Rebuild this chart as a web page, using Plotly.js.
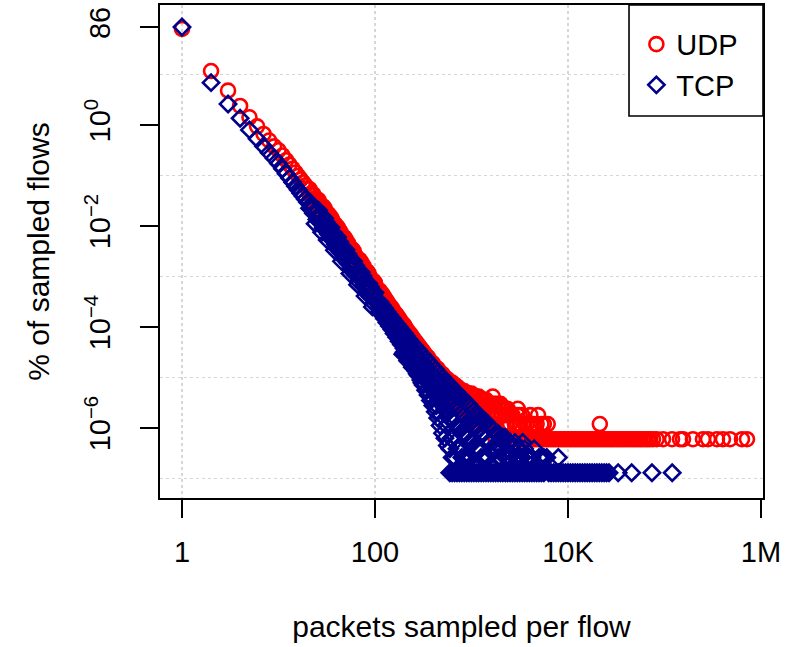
<!DOCTYPE html>
<html><head><meta charset="utf-8">
<script src="https://cdn.plot.ly/plotly-3.0.1.min.js"></script>
<style>html,body{margin:0;padding:0;background:#fff}#chart{width:798px;height:647px}</style>
</head><body><div id="chart"></div>
<script>
// packets sampled per flow (x) and % of sampled flows (y)
const udpPackets = [
  1,2,3,4,5,6,7,8,9,10,
  11,12,13,14,15,16,17,18,19,20,
  22,24,26,28,30,32,35,38,41,45,
  50,55,60,66,72,79,86,94,100,
  25,27,29,31,34,37,40,43,47,
  52,57,63,69,75,82,90,97,
  21,21,23,23,27,29,31,33,33,36,36,
  39,39,42,42,44,44,48,48,53,53,
  58,58,63,69,69,76,76,83,83,90,97,
  24,28,32,38,45,55,66,79,94,
  26,30,35,41,50,60,72,86,100,
  112,112,126,126,141,141,158,158,178,178,
  119,119,133,133,150,150,168,168,168,
  200,200,200,224,224,224,251,251,251,
  188,188,188,211,211,211,237,237,237,
  282,282,282,316,316,316,355,355,355,
  266,266,266,299,299,299,335,335,335,
  398,398,398,447,447,447,501,501,501,
  376,376,376,422,422,422,473,473,473,
  345,345,387,387,434,434,487,487,546,546,
  562,562,562,631,631,631,708,708,708,
  531,531,531,596,596,596,668,668,668,
  613,613,687,687,770,770,866,866,
  794,794,794,891,891,891,1000,1000,1000,
  750,750,750,841,841,841,944,944,944,
  1122,1122,1122,1259,1259,1259,1413,1413,1413,
  1059,1059,1059,1189,1189,1189,1334,1334,1334,
  1585,1585,1585,1660,1778,1778,1778,1995,1995,1995,
  1496,1496,1679,1679,1884,1884,2113,2113,2371,2371,
  2239,2239,2239,2512,2512,2512,2818,2818,3020,
  2661,2661,2985,2985,3350,3350,3758,3758,4217,4217,
  3162,3162,3162,3548,3548,3981,4074,4467,4467,4898,
  4732,4732,5309,5309,5957,
  5012,5623,5623,6166,6310,6680,
  7079,7500,7943,8413,8913,9441,10000,10590,11220,11890,
  12590,13340,14130,14970,15850,16790,17780,18840,19950,21130,
  22390,23710,25120,26610,28180,29850,31620,33500,35480,37580,
  39810,42170,44670,47320,50120,53090,56230,59570,63100,66830,
  70790,76000,83000,96600,119700,144900,155600,197200,250600,282500,
  349900,403600,477500,635300,716100,21380
];
const udpPercent = [
  80,11.7,4.8,2.38,1.42,0.94,0.665,0.493,0.378,0.316,
  0.249,0.2005,0.164,0.1364,0.1148,0.0977,0.0839,0.0728,0.0635,0.0559,
  0.0441,0.0354,0.029,0.0241,0.0203,0.0172,0.0133,0.01054,0.00849,0.0065,
  0.00482,0.00367,0.00287,0.00218,0.00171,0.00131,0.00103,0.000798,0.000668,
  0.030,0.0272,0.0205,0.0192,0.0136,0.0118,0.0086,0.0077,0.0054,
  0.0045,0.0031,0.0026,0.0018,0.00158,0.0011,0.00094,0.00068,
  0.0421,0.0535,0.0335,0.0425,0.0225,0.0245,0.0158,0.0172,0.0135,0.0134,0.0105,
  0.0107,0.0083,0.0087,0.0068,0.0076,0.0059,0.0060,0.0046,0.0045,0.0035,
  0.0035,0.0027,0.0021,0.00215,0.00162,0.00162,0.00124,0.00126,0.00097,0.00077,0.00081,
  0.0255,0.0174,0.0124,0.0076,0.0047,0.00264,0.00157,0.00094,0.000575,
  0.0325,0.0227,0.0149,0.0095,0.0054,0.0032,0.00192,0.00115,0.00075,
  5.25e-4,4.37e-4,3.8e-4,3.16e-4,2.75e-4,2.24e-4,2.0e-4,1.62e-4,1.48e-4,1.17e-4,
  4.52e-4,3.59e-4,3.27e-4,2.6e-4,2.37e-4,1.88e-4,1.74e-4,1.38e-4,1.05e-4,
  1.1e-4,8.7e-5,7.2e-5,7.9e-5,6.3e-5,5.25e-5,5.9e-5,4.7e-5,3.8e-5,
  1.27e-4,1.01e-4,7.7e-5,9.3e-5,7.4e-5,5.6e-5,6.9e-5,5.5e-5,4.2e-5,
  4.37e-5,3.47e-5,2.75e-5,3.3e-5,2.63e-5,2.0e-5,2.5e-5,1.9e-5,1.41e-5,
  5.1e-5,4.0e-5,3.05e-5,3.76e-5,2.99e-5,2.26e-5,2.82e-5,2.24e-5,1.7e-5,
  1.9e-5,1.41e-5,1.0e-5,1.48e-5,1.12e-5,7.9e-6,1.17e-5,8.9e-6,6.3e-6,
  2.09e-5,1.66e-5,1.26e-5,1.6e-5,1.27e-5,9.7e-6,1.24e-5,9.9e-6,7.5e-6,
  2.57e-5,2.04e-5,1.95e-5,1.55e-5,1.51e-5,1.17e-5,1.17e-5,9.3e-6,9.3e-6,7.2e-6,
  9.3e-6,7.1e-6,5.0e-6,7.9e-6,5.75e-6,4.0e-6,6.6e-6,4.8e-6,3.0e-6,
  9.8e-6,7.8e-6,5.9e-6,7.8e-6,6.2e-6,4.7e-6,7.2e-6,5.4e-6,3.6e-6,
  7.4e-6,5.75e-6,6.0e-6,4.2e-6,5.4e-6,3.6e-6,4.8e-6,3.0e-6,
  5.4e-6,4.2e-6,2.4e-6,4.8e-6,3.6e-6,2.4e-6,4.8e-6,3.0e-6,1.8e-6,
  6.0e-6,4.8e-6,3.0e-6,5.4e-6,4.2e-6,2.4e-6,4.8e-6,3.6e-6,1.8e-6,
  4.2e-6,3.0e-6,2.4e-6,3.6e-6,2.4e-6,1.8e-6,3.6e-6,2.4e-6,1.2e-6,
  4.2e-6,3.0e-6,1.8e-6,4.2e-6,2.4e-6,1.2e-6,3.6e-6,2.4e-6,1.2e-6,
  3.0e-6,1.8e-6,1.2e-6,4.2e-6,3.0e-6,1.8e-6,6.0e-7,3.0e-6,1.8e-6,6.0e-7,
  3.0e-6,1.8e-6,3.0e-6,1.2e-6,3.0e-6,1.8e-6,2.4e-6,1.2e-6,2.4e-6,1.2e-6,
  2.4e-6,1.8e-6,6.0e-7,1.8e-6,1.2e-6,6.0e-7,1.2e-6,6.0e-7,2.4e-6,
  1.8e-6,6.0e-7,1.8e-6,1.2e-6,1.8e-6,6.0e-7,1.2e-6,6.0e-7,1.2e-6,6.0e-7,
  1.8e-6,1.2e-6,6.0e-7,1.2e-6,6.0e-7,6.0e-7,1.8e-6,1.2e-6,6.0e-7,1.8e-6,
  1.2e-6,6.0e-7,1.2e-6,6.0e-7,6.0e-7,
  6.0e-7,1.2e-6,6.0e-7,1.2e-6,6.0e-7,6.0e-7,
  6.0e-7,6.0e-7,6.0e-7,6.0e-7,6.0e-7,6.0e-7,6.0e-7,6.0e-7,6.0e-7,6.0e-7,
  6.0e-7,6.0e-7,6.0e-7,6.0e-7,6.0e-7,6.0e-7,6.0e-7,6.0e-7,6.0e-7,6.0e-7,
  6.0e-7,6.0e-7,6.0e-7,6.0e-7,6.0e-7,6.0e-7,6.0e-7,6.0e-7,6.0e-7,6.0e-7,
  6.0e-7,6.0e-7,6.0e-7,6.0e-7,6.0e-7,6.0e-7,6.0e-7,6.0e-7,6.0e-7,6.0e-7,
  6.0e-7,6.0e-7,6.0e-7,6.0e-7,6.0e-7,6.0e-7,6.0e-7,6.0e-7,6.0e-7,6.0e-7,
  6.0e-7,6.0e-7,6.0e-7,6.0e-7,6.0e-7,1.2e-6
];
const tcpPackets = [
  1,2,3,4,5,6,7,8,9,10,
  11,12,13,14,15,16,17,18,19,20,
  22,24,26,28,30,32,35,38,41,45,
  50,55,60,66,72,79,86,94,100,
  25,27,29,31,34,37,40,43,47,
  52,57,63,69,75,82,90,97,
  21,21,23,23,25,27,29,31,33,33,36,36,
  39,39,42,42,44,44,48,48,53,53,
  58,58,63,69,76,76,83,83,90,97,
  24,28,32,38,45,55,66,79,94,
  26,30,35,41,50,60,72,86,100,
  112,112,112,126,126,126,141,141,141,
  119,119,119,133,133,133,150,150,150,
  158,158,158,178,178,178,
  168,168,168,188,188,188,
  200,200,200,200,224,224,224,224,
  211,211,211,211,237,237,237,237,
  194,194,194,218,218,218,244,244,244,
  251,251,251,251,282,282,282,282,
  266,266,266,266,299,299,299,299,
  274,274,274,307,307,307,345,345,345,
  316,316,316,316,355,355,355,355,
  335,335,335,335,376,376,376,376,
  387,387,387,434,434,434,487,487,487,
  398,398,398,398,447,447,447,447,
  422,422,422,422,473,473,473,473,
  501,501,501,501,562,562,562,562,
  546,546,546,613,613,613,
  531,531,531,531,596,596,596,596,596,
  631,631,631,631,631,708,708,708,708,708,
  668,668,668,668,668,668,750,750,750,750,750,
  794,794,794,794,794,891,891,891,891,891,
  841,841,841,841,841,944,944,944,944,944,
  1000,1000,1000,1000,1000,1122,1122,1122,1122,
  1059,1059,1059,1059,1189,1189,1189,1189,
  1259,1259,1259,1259,1413,1413,1413,1413,
  1334,1334,1334,1334,1496,1496,1496,1496,
  1585,1585,1585,1778,1778,1778,1995,1995,1995,1995,
  1679,1679,1679,1884,1884,1884,2113,2113,2113,
  2239,2239,2239,2512,2512,2512,2818,2818,2818,
  2371,2371,2371,2661,2661,2985,2985,2985,
  3162,3162,3162,3388,3548,3548,3981,3981,4467,4467,
  3350,3350,3758,3758,4217,4217,4732,5309,5309,
  5012,5012,5623,5623,6026,6310,6680,7079,7500,7943,7943,
  8413,8913,9441,10000,10590,11220,11890,12590,13340,14130,
  14970,15850,16790,17780,18840,19950,21130,22390,23710,25120,
  26610,33110,45710,74130,120200
];
const tcpPercent = [
  87,6.9,2.6,1.36,0.80,0.533,0.380,0.283,0.219,0.173,
  0.1355,0.1086,0.0887,0.0733,0.0615,0.0521,0.0447,0.0386,0.0337,0.0295,
  0.0231,0.0185,0.0151,0.0125,0.0105,0.00889,0.00689,0.00546,0.00441,0.00339,
  0.00251,0.00192,0.0015,0.00115,0.000895,0.000689,0.000541,0.000421,0.000353,
  0.0135,0.0174,0.00912,0.012,0.00589,0.00741,0.00363,0.0049,0.00229,
  0.00282,0.00132,0.00166,0.000759,0.00102,0.000468,0.000617,0.000288,
  0.030,0.0225,0.0238,0.0178,0.0195,0.0118,0.0133,0.0083,0.0095,0.0069,0.0075,0.0054,
  0.0060,0.0043,0.0049,0.0035,0.0043,0.0030,0.0034,0.0024,0.0026,0.0018,
  0.0020,0.0014,0.00108,0.00122,0.00092,0.00064,0.00072,0.0005,0.000395,0.00046,
  0.0111,0.0075,0.0053,0.0033,0.0020,0.00115,0.00069,0.00041,0.00025,
  0.0204,0.0142,0.0093,0.006,0.0034,0.002,0.00121,0.00073,0.00048,
  3.16e-4,2.51e-4,2.0e-4,2.34e-4,1.86e-4,1.45e-4,1.74e-4,1.35e-4,1.05e-4,
  2.69e-4,2.19e-4,1.7e-4,2.0e-4,1.58e-4,1.23e-4,1.51e-4,1.17e-4,8.9e-5,
  1.32e-4,1.0e-4,7.4e-5,1.0e-4,7.2e-5,5.25e-5,
  1.15e-4,8.5e-5,6.3e-5,8.7e-5,6.3e-5,4.5e-5,
  7.6e-5,5.5e-5,3.8e-5,3.16e-5,5.75e-5,4.17e-5,3.0e-5,2.5e-5,
  6.6e-5,4.8e-5,3.4e-5,2.8e-5,5.0e-5,3.6e-5,2.63e-5,2.0e-5,
  6.8e-5,4.6e-5,2.9e-5,5.0e-5,3.4e-5,2.15e-5,3.7e-5,2.5e-5,1.6e-5,
  4.47e-5,3.16e-5,2.24e-5,1.66e-5,3.47e-5,2.4e-5,1.58e-5,1.1e-5,
  3.9e-5,2.75e-5,1.9e-5,1.35e-5,3.0e-5,2.1e-5,1.35e-5,8.9e-6,
  2.8e-5,1.89e-5,1.19e-5,2.1e-5,1.42e-5,7.9e-6,1.57e-5,1.06e-5,5.6e-6,
  2.7e-5,1.82e-5,1.12e-5,7.1e-6,2.1e-5,1.38e-5,7.9e-6,4.5e-6,
  2.4e-5,1.58e-5,9.5e-6,5.6e-6,1.86e-5,1.2e-5,6.8e-6,3.5e-6,
  1.18e-5,7.9e-6,4.0e-6,8.9e-6,6.0e-6,2.8e-6,6.8e-6,4.6e-6,1.78e-6,
  1.62e-5,1.05e-5,5.6e-6,2.8e-6,1.26e-5,7.9e-6,4.0e-6,1.58e-6,
  1.45e-5,9.1e-6,4.8e-6,2.1e-6,1.12e-5,6.9e-6,3.4e-6,1.12e-6,
  1.0e-5,6.0e-6,2.8e-6,7.9e-7,7.9e-6,4.5e-6,2.0e-6,4.5e-7,
  5.2e-6,3.5e-6,1.12e-6,4.0e-6,2.7e-6,6.3e-7,
  8.9e-6,5.2e-6,2.4e-6,6.3e-7,7.1e-6,4.0e-6,1.66e-6,3.9e-7,1.3e-7,
  6.3e-6,3.5e-6,1.4e-6,2.6e-7,1.3e-7,5.0e-6,2.6e-6,1.04e-6,3.9e-7,1.3e-7,
  5.6e-6,3.0e-6,1.3e-6,5.2e-7,2.6e-7,1.3e-7,4.5e-6,2.34e-6,1.04e-6,3.9e-7,1.3e-7,
  4.0e-6,1.95e-6,7.8e-7,2.6e-7,1.3e-7,3.2e-6,1.56e-6,6.5e-7,2.6e-7,1.3e-7,
  3.6e-6,1.82e-6,7.8e-7,2.6e-7,1.3e-7,2.9e-6,1.43e-6,6.5e-7,2.6e-7,1.3e-7,
  2.5e-6,1.3e-6,5.2e-7,2.6e-7,1.3e-7,1.95e-6,1.04e-6,3.9e-7,1.3e-7,
  2.2e-6,1.17e-6,5.2e-7,1.3e-7,1.82e-6,9.1e-7,3.9e-7,1.3e-7,
  1.56e-6,7.8e-7,2.6e-7,1.3e-7,1.3e-6,6.5e-7,2.6e-7,1.3e-7,
  1.43e-6,7.8e-7,2.6e-7,1.3e-7,1.17e-6,5.2e-7,2.6e-7,1.3e-7,
  1.04e-6,5.2e-7,1.3e-7,7.8e-7,3.9e-7,1.3e-7,6.5e-7,3.9e-7,2.6e-7,1.3e-7,
  9.1e-7,3.9e-7,1.3e-7,7.8e-7,2.6e-7,1.3e-7,6.5e-7,3.9e-7,1.3e-7,
  6.5e-7,2.6e-7,1.3e-7,5.2e-7,2.6e-7,1.3e-7,5.2e-7,2.6e-7,1.3e-7,
  5.2e-7,2.6e-7,1.3e-7,3.9e-7,1.3e-7,3.9e-7,2.6e-7,1.3e-7,
  3.9e-7,2.6e-7,1.3e-7,5.2e-7,3.9e-7,1.3e-7,2.6e-7,1.3e-7,3.9e-7,1.3e-7,
  2.6e-7,1.3e-7,2.6e-7,1.3e-7,2.6e-7,1.3e-7,1.3e-7,2.6e-7,1.3e-7,
  2.6e-7,1.3e-7,2.6e-7,1.3e-7,2.6e-7,1.3e-7,1.3e-7,1.3e-7,1.3e-7,2.6e-7,1.3e-7,
  1.3e-7,1.3e-7,1.3e-7,1.3e-7,1.3e-7,1.3e-7,1.3e-7,1.3e-7,1.3e-7,1.3e-7,
  1.3e-7,1.3e-7,1.3e-7,1.3e-7,1.3e-7,1.3e-7,1.3e-7,1.3e-7,1.3e-7,1.3e-7,
  1.3e-7,1.3e-7,1.3e-7,1.3e-7,1.3e-7
];
const seriesNames = ['UDP', 'TCP'];
const xTickVals = [1, 100, 1e4, 1e6];
const xTickText = ['1', '100', '10K', '1M'];
const yTickVals = [86, 1, 1e-2, 1e-4, 1e-6];
const yTickText = ['86', '10<sup>0</sup>', '10<sup>\u22122</sup>', '10<sup>\u22124</sup>', '10<sup>\u22126</sup>'];
const xGridVals = [1, 100, 1e4];
const yGridVals = [10, 0.1, 1e-3, 1e-5, 1e-7];

const traces = [
  {type:'scatter', mode:'markers', name: seriesNames[0], x: udpPackets, y: udpPercent,
   marker:{symbol:'circle-open', size:14, color:'#ff0000', line:{width:2.6, color:'#ff0000'}}},
  {type:'scatter', mode:'markers', name: seriesNames[1], x: tcpPackets, y: tcpPercent,
   marker:{symbol:'diamond-open', size:12.5, color:'#00008b', line:{width:2.6, color:'#00008b'}}}
];
const gridStyle = {tickmode:'array', showgrid:true, gridcolor:'#d6d6d6', griddash:'dot', gridwidth:1.4, ticks:''};
const layout = {
  width:798, height:647,
  margin:{l:160, r:35, t:5, b:149},
  paper_bgcolor:'#ffffff', plot_bgcolor:'#ffffff',
  font:{family:'"Liberation Sans", Arial, sans-serif', size:30, color:'#000'},
  showlegend:true,
  legend:{x:0.79, xanchor:'left', y:0.972, yanchor:'top', bgcolor:'rgba(0,0,0,0)', borderwidth:0,
          font:{size:29, color:'#000'}, itemwidth:30, tracegroupgap:0},
  shapes:[{type:'rect', xref:'paper', yref:'paper', x0:0.7778, x1:1, y0:0.7748, y1:1,
           fillcolor:'#ffffff', line:{color:'#000', width:1.6}, layer:'above'}],
  xaxis:{type:'log', range:[-0.228, 6.021], tickmode:'array', tickvals:xTickVals, ticktext:xTickText,
         tickfont:{size:29},
         ticks:'outside', ticklen:18, tickwidth:2, tickcolor:'#000', showline:true, mirror:true,
         linecolor:'#000', linewidth:2, showgrid:false, zeroline:false,
         minor:Object.assign({tickvals:xGridVals}, gridStyle),
         title:{text:'packets sampled per flow', standoff:49, font:{size:30}},
         ticklabelstandoff:9, automargin:false},
  yaxis:{type:'log', range:[-7.386, 2.376], tickmode:'array', tickvals:yTickVals, ticktext:yTickText,
         tickfont:{size:29}, tickangle:-90,
         ticks:'outside', ticklen:18, tickwidth:2, tickcolor:'#000', showline:true, mirror:true,
         linecolor:'#000', linewidth:2, showgrid:false, zeroline:false,
         minor:Object.assign({tickvals:yGridVals}, gridStyle),
         title:{text:'% of sampled flows', standoff:22, font:{size:30}},
         ticklabelstandoff:18, automargin:false}
};
Plotly.newPlot('chart', traces, layout, {staticPlot:true, displayModeBar:false});
</script>
</body></html>
